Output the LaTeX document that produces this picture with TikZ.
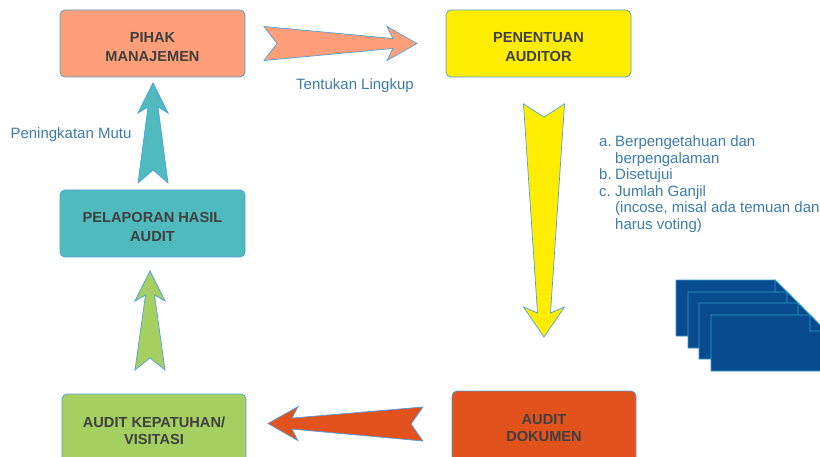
\documentclass[tikz,border=0pt]{standalone}
\usepackage{fontspec}
\setmainfont{Liberation Sans}
\usetikzlibrary{positioning,calc}
\definecolor{boxline}{HTML}{4F9FDC}
\definecolor{boxtext}{HTML}{404040}
\definecolor{labelblue}{HTML}{3B7CAB}
\definecolor{salmon}{HTML}{FF9F79}
\definecolor{kuning}{HTML}{FFED00}
\definecolor{teal}{HTML}{4FBBBF}
\definecolor{hijau}{HTML}{A5CF61}
\definecolor{jingga}{HTML}{E2521D}
\definecolor{docfill}{HTML}{084B8F}
\definecolor{docline}{HTML}{2E9FC5}
\tikzstyle{stagebox} = [draw=boxline,line width=0.8pt,rounded corners=5pt,minimum width=185pt,minimum height=67pt,inner sep=0pt,outer sep=0pt,align=center,text=boxtext,font=\fontsize{14.6}{18.5}\selectfont\bfseries]
\tikzstyle{lowbox} = [stagebox,minimum width=184pt,minimum height=74pt,font=\fontsize{14.6}{17.5}\selectfont\bfseries]
\tikzstyle{labeltext} = [text=labelblue,inner sep=0pt,font=\fontsize{15}{16.6}\selectfont]
\tikzstyle{blockline} = [draw=boxline,line width=0.7pt,line join=miter]
\tikzstyle{docsheet} = [draw=docline,line width=0.7pt,fill=docfill]
% pushes the two lines of an upper box down a little
\newcommand{\lowertext}{\rule{0pt}{17pt}}
% tail, tip, colour, half width, half width of the shaft at the head, depth of the notch
\newcommand{\blockarrow}[6]{
    \coordinate (headbase) at ($(#2)!30pt!(#1)$);
    \coordinate (joint) at ($(#2)!24pt!(#1)$);
    \draw[blockline,fill=#3] ($(#1)!#4!90:(#2)$) -- ($(#1)!#6!(#2)$) -- ($(#1)!#4!-90:(#2)$)
        -- ($(joint)!#5!90:(#1)$) -- ($(headbase)!#4!90:(#1)$) -- (#2)
        -- ($(headbase)!#4!-90:(#1)$) -- ($(joint)!#5!-90:(#1)$) -- cycle;
}
\begin{document}
\begin{tikzpicture}
    \clip (0,0) rectangle (820pt,456pt);
    % create the nodes
    \node (pihak)[stagebox, fill=salmon] at (152.5pt,412.5pt) {\lowertext PIHAK\\MANAJEMEN};
    \node (penentuan)[stagebox, fill=kuning, right = 201pt of pihak] {\lowertext PENENTUAN\\AUDITOR};
    \node (pelaporan)[stagebox, fill=teal, below = 113pt of pihak] {\lowertext PELAPORAN HASIL\\AUDIT};
    \node (kepatuhan)[lowbox, fill=hijau, below = 137pt of pelaporan, xshift=1.5pt] {AUDIT KEPATUHAN/\\VISITASI};
    \node (dokumen)[lowbox, fill=jingga, right = 206pt of kepatuhan, yshift=3pt] {AUDIT\\DOKUMEN};
    \node (lingkup)[labeltext] at (355pt,370pt) {Tentukan Lingkup};
    \node (mutu)[labeltext] at (71pt,321pt) {Peningkatan Mutu};
    \node (syarat)[labeltext, align=left, anchor=north west] at (599pt,320.5pt) {%
        \makebox[16pt][l]{a.}Berpengetahuan dan\\
        \hspace*{16pt}berpengalaman\\
        \makebox[16pt][l]{b.}Disetujui\\
        \makebox[16pt][l]{c.}Jumlah Ganjil\\
        \hspace*{16pt}(incose, misal ada temuan dan\\
        \hspace*{16pt}harus voting)};
    % the stack of documents
    \foreach \x/\y in {676/176, 688/164, 699/153, 711/141} {
        \draw[docsheet] (\x pt,\y pt) -- ++(99pt,0) -- ++(16pt,-16pt) -- ++(0,-40pt) -- ++(-115pt,0) -- cycle;
        \draw[docsheet] (\x pt+99pt,\y pt) -- ++(0,-16pt) -- ++(16pt,0) -- cycle;
    }
    % ends of the block arrows
    \coordinate [right = 19pt of pihak] (tail1);
    \coordinate [left = 29pt of penentuan] (tip1);
    \coordinate [below = 27pt of penentuan, xshift=5.5pt] (tail2);
    \coordinate [above = 54pt of dokumen] (tip2);
    \coordinate [left = 29pt of dokumen, yshift=4pt] (tail3);
    \coordinate [right = 22pt of kepatuhan, yshift=7.5pt] (tip3);
    \coordinate [above = 24pt of kepatuhan, xshift=-4pt] (tail4);
    \coordinate [below = 14pt of pelaporan, xshift=-2.5pt] (tip4);
    \coordinate [above = 7pt of pelaporan, xshift=0.5pt] (tail5);
    \coordinate [below = 6pt of pihak, xshift=0.5pt] (tip5);
    % connect the nodes
    \blockarrow{tail1}{tip1}{salmon}{17pt}{5pt}{13pt}
    \blockarrow{tail2}{tip2}{kuning}{20.5pt}{6.5pt}{13pt}
    \blockarrow{tail3}{tip3}{jingga}{17pt}{5.5pt}{12pt}
    \blockarrow{tail4}{tip4}{hijau}{15pt}{4.5pt}{12pt}
    \blockarrow{tail5}{tip5}{teal}{15pt}{5pt}{13pt}
\end{tikzpicture}
\end{document}
